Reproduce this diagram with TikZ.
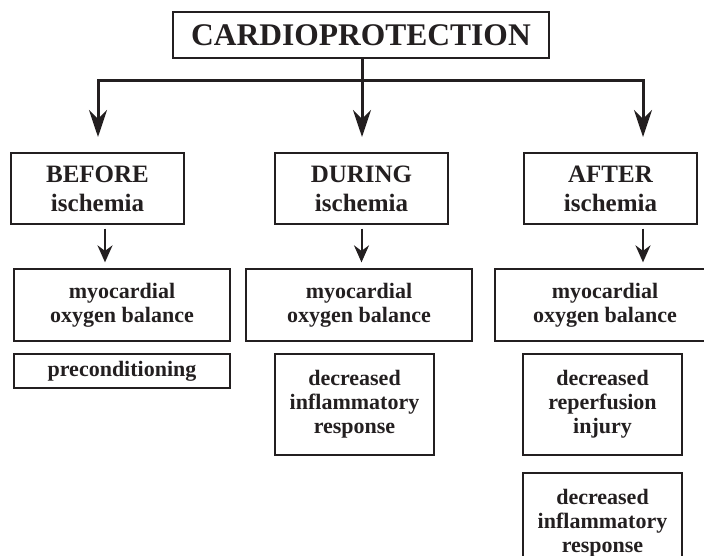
\documentclass[tikz,border=0pt]{standalone}
\usepackage{fontspec}
\setmainfont{Liberation Serif}
\usepackage{tikz}
\usetikzlibrary{arrows.meta,positioning,calc}
\definecolor{Ink}{HTML}{231F20}

\tikzset{
  box/.style={draw=Ink,line width=1.3pt,text=Ink,align=center,inner sep=0pt,font=\bfseries},
  headbox/.style={box,minimum width=173pt,minimum height=71pt,font=\bfseries\fontsize{25}{29}\selectfont},
  itembox/.style={box,minimum height=72pt,font=\bfseries\fontsize{22}{24}\selectfont},
  trunk/.style={draw=Ink,line width=3pt,-{Stealth[length=27pt,width=18pt]}},
  twig/.style={draw=Ink,line width=2pt,-{Stealth[length=17pt,width=15pt]}}
}

\begin{document}
\begin{tikzpicture}[x=1pt,y=-1pt]
  \useasboundingbox (0,0) rectangle (704,555);
  \clip (0,0) rectangle (704,555);

  \node[box,minimum width=376pt,minimum height=46pt,font=\bfseries\fontsize{31.5}{34}\selectfont]
    (title) at (361,35) {CARDIOPROTECTION};

  \node[headbox] (before) at (97.5,188.5) {BEFORE\\ischemia};
  \node[headbox] (during) at (361.5,188.5) {DURING\\ischemia};
  \node[headbox] (after) at (610.5,188.5) {AFTER\\ischemia};

  \node[itembox,minimum width=216pt] (myoB) at (122,305) {myocardial\\oxygen balance};
  \node[itembox,minimum width=226pt] (myoD) at (359,305) {myocardial\\oxygen balance};
  \node[itembox,minimum width=220pt] (myoA) at (605,305) {myocardial\\oxygen balance};

  \node[itembox,minimum width=216pt,minimum height=34pt] (precond) at (122,371) {preconditioning};
  \node[itembox,minimum width=159pt,minimum height=101pt] (inflD) at (354.5,404.5) {decreased\\inflammatory\\response};
  \node[itembox,minimum width=159pt,minimum height=101pt] (reperf) at (602.5,404.5) {decreased\\reperfusion\\injury};
  \node[itembox,minimum width=159pt,minimum height=101pt] (inflA) at (602.5,523.5) {decreased\\inflammatory\\response};

  \coordinate (hub) at (362,80);
  \coordinate (tipB) at (98,137);
  \coordinate (tipD) at (362,137);
  \coordinate (tipA) at (643,137);

  \draw[trunk] (title.south -| hub) -- (tipD);
  \draw[trunk,line join=miter] (hub) -| (tipB);
  \draw[trunk,line join=miter] (hub) -| (tipA);

  \draw[twig,shorten <=4pt,shorten >=6pt] ([xshift=7.5pt]before.south) -- ([xshift=7.5pt]before.south |- myoB.north);
  \draw[twig,shorten <=4pt,shorten >=6pt] (during.south) -- (during.south |- myoD.north);
  \draw[twig,shorten <=4pt,shorten >=6pt] (after.south -| tipA) -- (tipA |- myoA.north);
\end{tikzpicture}
\end{document}
